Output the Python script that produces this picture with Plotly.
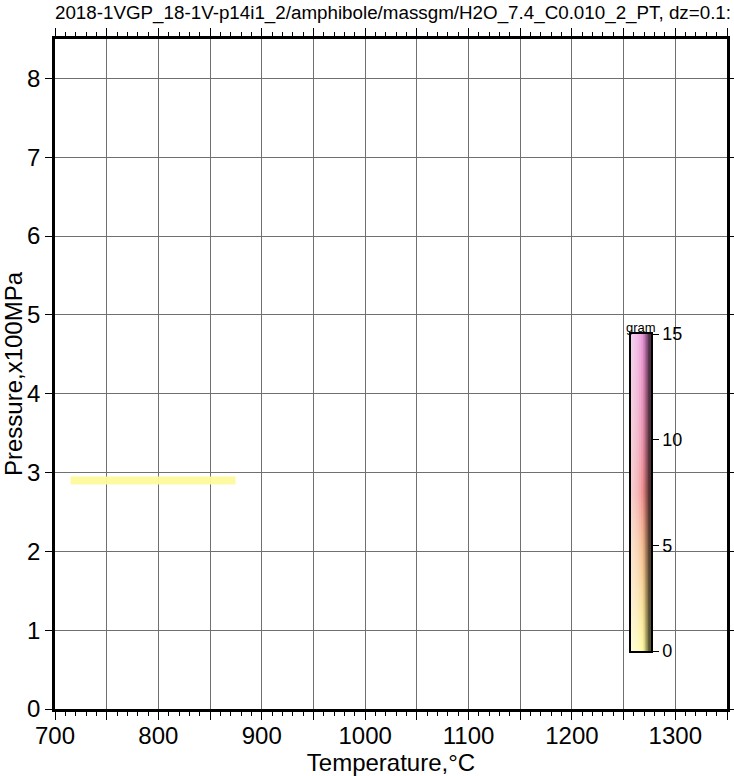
import plotly.graph_objects as go

# pressure row (x100 MPa) and temperature cell edges of the one mapped row
title_txt = "2018-1VGP_18-1V-p14i1_2/amphibole/massgm/H2O_7.4_C0.010_2_PT, dz=0.1:"
temp_edges = [715, 725, 735, 745, 755, 765, 775, 785, 795, 805, 815, 825, 835, 845, 855, 865, 875]
pres_edges = [2.85, 2.95]
mass_gram = [[0.05, 0.05, 0.05, 0.05, 0.05, 0.05, 0.05, 0.05, 0.05, 0.05, 0.05, 0.05, 0.05, 0.05, 0.05, 0.05]]

x_tickvals = [700, 750, 800, 850, 900, 950, 1000, 1050, 1100, 1150, 1200, 1250, 1300, 1350]
x_ticktext = ["700", "", "800", "", "900", "", "1000", "", "1100", "", "1200", "", "1300", ""]
cbar_range = [0, 15]
cbar_ticks = [0, 5, 10, 15]

base_stops = [0.0, 0.333, 0.5, 0.667, 1.0]
base_cols = ["#fefb9c", "#f4b88a", "#ee8a8a", "#ea8eaa", "#e68ed6"]
# illumination across the scale bar, left (light) to right (dark)
shade_levels = [0.6, 0.55, 0.5, 0.44, 0.36, 0.26, 0.12, -0.06, -0.26, -0.46, -0.66]


def mix(hexcol, t):
    r, g, b = int(hexcol[1:3], 16), int(hexcol[3:5], 16), int(hexcol[5:7], 16)
    tgt = 255 if t > 0 else 0
    a = abs(t)
    r, g, b = [round(c + (tgt - c) * a) for c in (r, g, b)]
    return "rgb(%d,%d,%d)" % (r, g, b)


cscale = [[s, c] for s, c in zip(base_stops, base_cols)]

W, H = 734, 776
ml, mr, mt, mb = 55, 7, 39, 67
pw, ph = W - ml - mr, H - mt - mb

# colorbar box in pixels
cb_x0, cb_x1, cb_y0, cb_y1 = 631, 651, 334, 651
cbx = [(cb_x0 - ml) / pw, (cb_x1 - ml) / pw]
cby = [(H - mb - cb_y1) / ph, (H - mb - cb_y0) / ph]

fig = go.Figure()
fig.add_trace(go.Heatmap(
    x=temp_edges, y=pres_edges, z=mass_gram,
    zmin=cbar_range[0], zmax=cbar_range[1], colorscale=cscale, opacity=0.95,
    showscale=False,
))

# colour scale bar drawn as its own small subplot, one shaded strip per level
for i, t in enumerate(shade_levels):
    fig.add_trace(go.Heatmap(
        x=[i, i + 1], y=cbar_range, z=[[cbar_range[0]] * 2, [cbar_range[1]] * 2],
        zmin=cbar_range[0], zmax=cbar_range[1],
        colorscale=[[s, mix(c, t)] for s, c in zip(base_stops, base_cols)],
        zsmooth="best", showscale=False, xaxis="x2", yaxis="y2", hoverinfo="skip",
    ))

fig.update_layout(
    width=W, height=H,
    margin=dict(l=ml, r=mr, t=mt, b=mb),
    paper_bgcolor="white", plot_bgcolor="white",
    font=dict(family="Liberation Sans, Arial, sans-serif", color="black"),
    title=dict(text=title_txt, x=(ml + pw / 2 + 2) / W, xanchor="center",
               y=1 - 12 / H, yanchor="middle", font=dict(size=18.8)),
    showlegend=False,
    xaxis=dict(
        range=[700, 1350], tickvals=x_tickvals, ticktext=x_ticktext,
        ticks="outside", ticklen=8, tickwidth=1.2, tickcolor="black",
        tickfont=dict(size=24), ticklabelstandoff=-5,
        showgrid=True, gridcolor="#707070", gridwidth=1,
        minor=dict(dtick=10, tick0=700, ticks="outside", ticklen=4, tickcolor="black", showgrid=False),
        showline=True, linecolor="black", linewidth=2.5, mirror="allticks",
        zeroline=False, automargin=False,
        title=dict(text="Temperature,°C", font=dict(size=24), standoff=6),
    ),
    yaxis=dict(
        range=[0, 8.5], dtick=1, tick0=0,
        ticks="outside", ticklen=7, tickwidth=1.2, tickcolor="black",
        tickfont=dict(size=24), showgrid=True, gridcolor="#707070", gridwidth=1,
        showline=True, linecolor="black", linewidth=2.5, mirror="allticks",
        zeroline=False, automargin=False,
        title=dict(text="Pressure,x100MPa", font=dict(size=24), standoff=4),
    ),
    xaxis2=dict(domain=cbx, anchor="y2", range=[0, len(shade_levels)], showticklabels=False,
                ticks="", showgrid=False, zeroline=False, fixedrange=True,
                showline=True, linecolor="black", linewidth=1.5, mirror=True),
    yaxis2=dict(domain=cby, anchor="x2", range=cbar_range, side="right",
                tickvals=cbar_ticks, ticks="outside", ticklen=6, tickcolor="black",
                tickfont=dict(size=18), showgrid=False, zeroline=False, fixedrange=True,
                showline=True, linecolor="black", linewidth=1.5, mirror=True,
                automargin=False),
    annotations=[dict(text="gram", x=(cbx[0] + cbx[1]) / 2, y=cby[1], xref="paper",
                      yref="paper", xanchor="center", yanchor="bottom",
                      showarrow=False, font=dict(size=13), yshift=-3)],
)

fig.write_html("out.html", config={"displayModeBar": False},
               post_script="document.body.style.margin='0';")
